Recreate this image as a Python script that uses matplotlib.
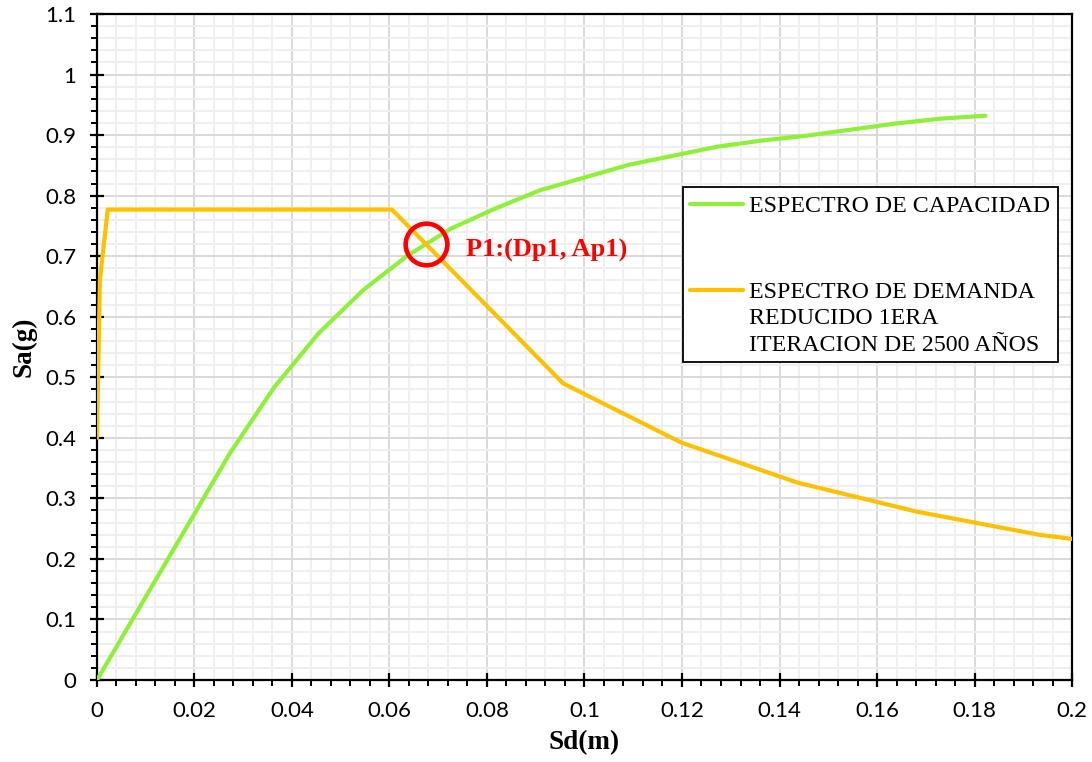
import matplotlib
matplotlib.use("Agg")
import matplotlib.pyplot as plt
from matplotlib.ticker import MultipleLocator
from matplotlib.patches import Rectangle
from matplotlib.lines import Line2D

# Capacity spectrum (Sd in m, Sa in g)
cap_sd = [0.0, 0.0091, 0.0182, 0.0273, 0.0364, 0.0455, 0.0546, 0.0637, 0.0727,
          0.0818, 0.0909, 0.1000, 0.1091, 0.1182, 0.1273, 0.1364, 0.1455,
          0.1546, 0.1637, 0.1728, 0.1822]
cap_sa = [0.0, 0.125, 0.250, 0.375, 0.484, 0.573, 0.644, 0.701, 0.746,
          0.779, 0.809, 0.830, 0.851, 0.866, 0.881, 0.891, 0.899,
          0.909, 0.919, 0.927, 0.932]

# Reduced demand spectrum, first iteration, 2500-year return period
dem_sd = [0.0, 0.0006, 0.0022, 0.0605, 0.0956, 0.1199, 0.1437, 0.1682, 0.1932, 0.2176]
dem_sa = [0.400, 0.661, 0.777, 0.777, 0.490, 0.392, 0.326, 0.278, 0.240, 0.215]

# Performance point
p1_sd = 0.0674
p1_sa = 0.7206
p1_label = "P1:(Dp1, Ap1)"

legend_labels = ["ESPECTRO DE CAPACIDAD",
                 "ESPECTRO DE DEMANDA\nREDUCIDO 1ERA\nITERACION DE 2500 AÑOS"]

x_ticks = [0, 0.02, 0.04, 0.06, 0.08, 0.1, 0.12, 0.14, 0.16, 0.18, 0.2]
x_ticklabels = ["0", "0.02", "0.04", "0.06", "0.08", "0.1", "0.12", "0.14",
                "0.16", "0.18", "0.2"]
y_ticks = [0, 0.1, 0.2, 0.3, 0.4, 0.5, 0.6, 0.7, 0.8, 0.9, 1.0, 1.1]
y_ticklabels = ["0", "0.1", "0.2", "0.3", "0.4", "0.5", "0.6", "0.7", "0.8",
                "0.9", "1", "1.1"]

GREEN = "#8FF03A"
ORANGE = "#FFC000"
SERIF = "Liberation Serif"

fig = plt.figure(figsize=(10.92, 7.62), dpi=100)
ax = fig.add_axes([0.0888, 0.1076, 0.8929, 0.874])

ax.plot(cap_sd, cap_sa, color=GREEN, lw=3.0, solid_capstyle="round", zorder=3)
ax.plot(dem_sd, dem_sa, color=ORANGE, lw=3.0, solid_capstyle="round", zorder=3)

ax.set_xlim(0, 0.2)
ax.set_ylim(0, 1.1)

ax.set_xticks(x_ticks, x_ticklabels)
ax.set_yticks(y_ticks, y_ticklabels)
ax.xaxis.set_minor_locator(MultipleLocator(0.004))
ax.yaxis.set_minor_locator(MultipleLocator(0.02))

ax.set_axisbelow(True)
ax.grid(which="minor", color="#efefef", lw=1.4)
ax.grid(which="major", color="#d9d9d9", lw=1.4)

for s in ax.spines.values():
    s.set_color("black")
    s.set_linewidth(1.6)

ax.tick_params(which="major", direction="inout", length=10, width=1.6,
               color="black", labelsize=16, pad=10)
ax.tick_params(which="minor", direction="out", length=4.5, width=1.4, color="black")
for lab in ax.get_xticklabels() + ax.get_yticklabels():
    lab.set_fontfamily("Lato")

ax.set_xlabel("Sd(m)", fontfamily=SERIF, fontweight="bold", fontsize=19.5, labelpad=7)
ax.set_ylabel("Sa(g)", fontfamily=SERIF, fontweight="bold", fontsize=19.5, labelpad=6)

# Performance point marker and label
ax.plot([p1_sd], [p1_sa], marker="o", ms=30, mfc="none", mec="#FF0000",
        mew=3.3, ls="none", zorder=5)
ax.annotate(p1_label, xy=(p1_sd, p1_sa), xytext=(29, -5),
            textcoords="offset points", ha="left", va="center",
            fontfamily=SERIF, fontweight="bold", fontsize=19, color="#FF0000",
            zorder=6)

# Legend box
lx0, ly0, lx1, ly1 = 0.601, 0.4775, 0.9856, 0.740
ax.add_patch(Rectangle((lx0, ly0), lx1 - lx0, ly1 - ly0, transform=ax.transAxes,
                       facecolor="white", edgecolor="black", lw=1.3, zorder=7))
rows = [(0.7147, GREEN), (0.5856, ORANGE)]
for (yy, col), lab in zip(rows, legend_labels):
    ax.add_line(Line2D([0.608, 0.663], [yy, yy], transform=ax.transAxes,
                       color=col, lw=3.0, solid_capstyle="round", zorder=8))
    ax.text(0.6687, yy, lab, transform=ax.transAxes, ha="left", va="top",
            fontfamily=SERIF, fontsize=17.2, linespacing=1.37, zorder=8)

# shift text so the first line is centred on its legend line
fig.canvas.draw()
r = fig.canvas.get_renderer()
probe = ax.text(0, 0, "ESPECTRO", fontfamily=SERIF, fontsize=17.2)
first_h = probe.get_window_extent(r).height
probe.remove()
for t in ax.texts[-2:]:
    x, y = t.get_position()
    disp = ax.transAxes.transform((x, y))
    new = ax.transAxes.inverted().transform((disp[0], disp[1] + first_h / 2 - 2))
    t.set_position((x, new[1]))

fig.savefig("out.png", dpi=100)
